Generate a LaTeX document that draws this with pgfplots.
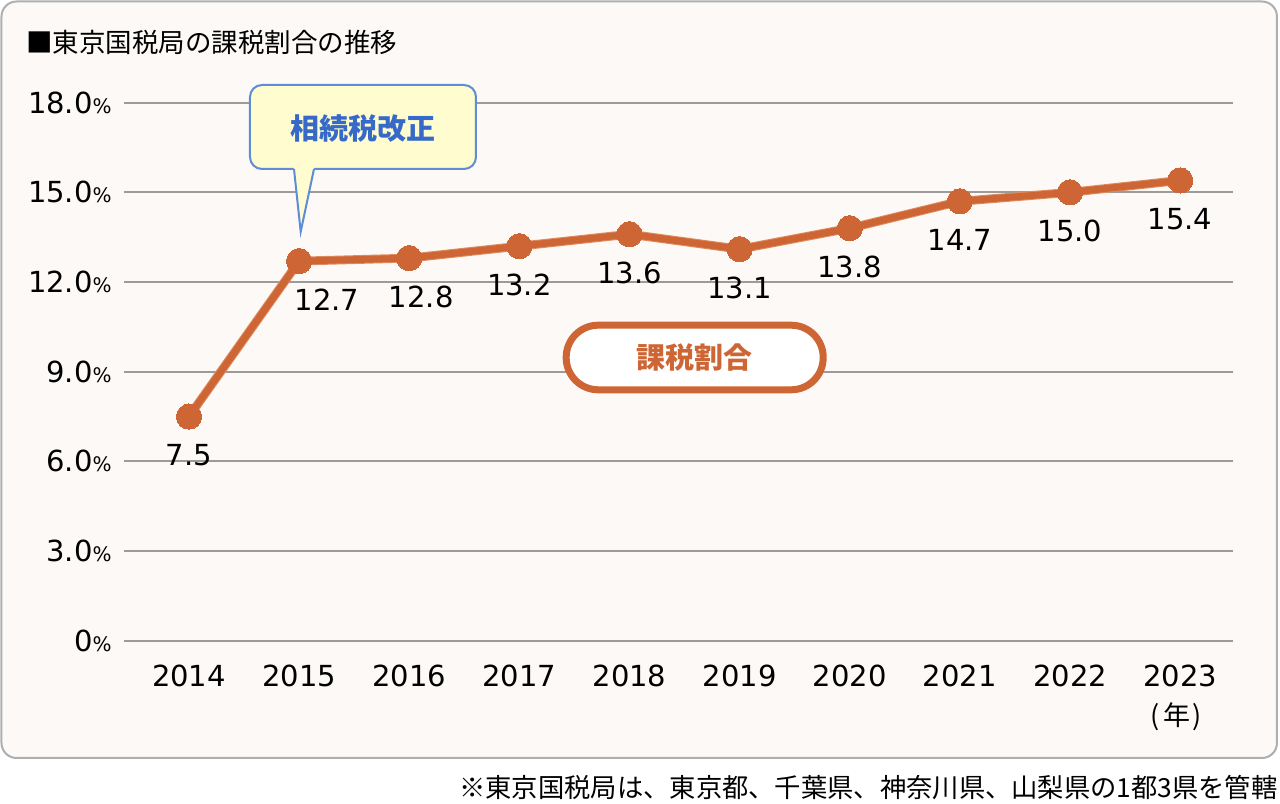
\documentclass[border=0pt]{standalone}
\usepackage{pgfplots}
\pgfplotsset{compat=1.18}
\usepackage{fontspec}
\setmainfont{DejaVu Sans}
\newfontfamily\jp{Noto Sans CJK JP}
\definecolor{panelfill}{RGB}{252,249,246}
\definecolor{panelborder}{RGB}{175,175,175}
\definecolor{gridc}{RGB}{155,155,155}
\definecolor{lineor}{RGB}{205,102,52}
\definecolor{glow}{RGB}{222,140,95}
\definecolor{calloutfill}{RGB}{255,253,207}
\definecolor{calloutborder}{RGB}{95,140,215}
\definecolor{callouttext}{RGB}{55,105,200}
\newcommand{\pc}{{\fontsize{10bp}{12bp}\selectfont\%}}
\begin{document}
\begin{tikzpicture}
\useasboundingbox (0,0) rectangle (640bp,-402bp);
\begin{scope}[x=0.5bp,y=-0.5bp]
\draw[draw=panelborder, line width=1bp, fill=panelfill, rounded corners=7.5bp] (1.5,1.5) rectangle (1277,758);
\node[anchor=west, inner sep=0pt, font=\jp\fontsize{13.25bp}{15bp}\selectfont] at (26,42) {■東京国税局の課税割合の推移};
\node[anchor=east, inner sep=0pt, font=\jp\fontsize{13.15bp}{15bp}\selectfont] at (1278,788) {※東京国税局は、東京都、千葉県、神奈川県、山梨県の1都3県を管轄};
\node[inner sep=0pt, font=\jp\fontsize{13.5bp}{15bp}\selectfont] at (1176,717) {(\kern2bp 年\kern1bp)};
\end{scope}
\begin{axis}[
  at={(62bp,-320.35bp)}, anchor=south west,
  scale only axis, width=554.5bp, height=269bp,
  xmin=2013.41, xmax=2023.48, ymin=0, ymax=18,
  axis line style={draw=none},
  major tick length=0pt,
  ytick={0,3,6,9,12,15,18},
  yticklabels={0\pc,3.0\pc,6.0\pc,9.0\pc,12.0\pc,15.0\pc,18.0\pc},
  xtick={2014,2015,2016,2017,2018,2019,2020,2021,2022,2023},
  xticklabels={2014,2015,2016,2017,2018,2019,2020,2021,2022,2023},
  ymajorgrids, grid style={draw=gridc, line width=1bp},
  tick label style={font=\fontsize{14.5bp}{17bp}\selectfont},
  yticklabel style={anchor=east, inner sep=0pt, xshift=-6bp},
  xticklabel style={anchor=north, inner sep=0pt, yshift=-12bp},
  clip=false,
]
\addplot[glow, line width=4.4bp, line join=round, forget plot] coordinates {
  (2014,7.5) (2015,12.7) (2016,12.8) (2017,13.2) (2018,13.6)
  (2019,13.1) (2020,13.8) (2021,14.7) (2022,15.0) (2023,15.4)};
\addplot[lineor, line width=3.4bp, line join=round,
  mark=*, mark size=6.3bp, mark options={fill=lineor, draw=lineor, line width=0pt},
  nodes near coords, point meta=explicit symbolic,
  nodes near coords style={font=\fontsize{14.5bp}{17bp}\selectfont, text=black, anchor=center, inner sep=0pt, yshift=-19.5bp},
  coordinate style/.condition={\coordindex==1}{xshift=14bp},
  coordinate style/.condition={\coordindex==2}{xshift=6bp},
] coordinates {
  (2014,7.5) [7.5] (2015,12.7) [12.7] (2016,12.8) [12.8] (2017,13.2) [13.2] (2018,13.6) [13.6]
  (2019,13.1) [13.1] (2020,13.8) [13.8] (2021,14.7) [14.7] (2022,15.0) [15.0] (2023,15.4) [15.4]};
\end{axis}
\begin{scope}[x=0.5bp,y=-0.5bp]
\draw[calloutborder, line width=1bp, fill=calloutfill, rounded corners=6bp] (250,85) rectangle (476,169);
\fill[calloutfill] (293.5,166) -- (300.7,231.7) -- (314.5,166) -- cycle;
\draw[calloutborder, line width=1bp, line join=miter] (294,169) -- (300.7,231.7) -- (314,169);
\node[inner sep=0pt, text=callouttext, font=\jp\bfseries\fontsize{14.5bp}{17bp}\selectfont] at (363,129) {相続税改正};
\draw[lineor, line width=3.5bp, fill=white, rounded corners=16bp] (566.2,325.2) rectangle (823.2,389.8);
\node[inner sep=0pt, text=lineor, font=\jp\bfseries\fontsize{14.5bp}{17bp}\selectfont] at (695,357) {課税割合};
\end{scope}
\end{tikzpicture}
\end{document}
